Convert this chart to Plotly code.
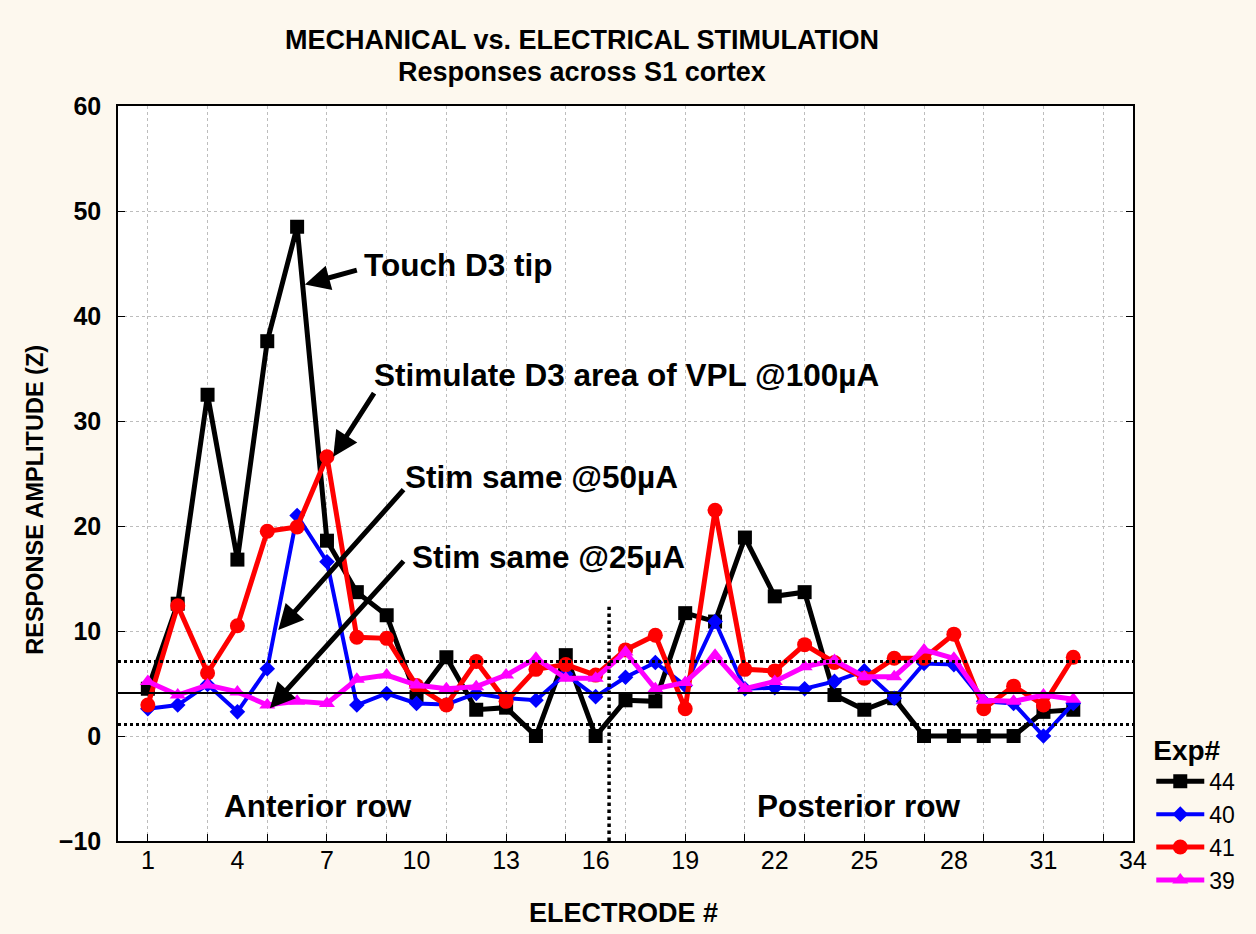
import plotly.graph_objects as go

# Electrode positions along the S1 array
electrode = list(range(1, 33))

# Response amplitudes (Z) per experiment
exp44 = [4.5, 12.6, 32.5, 16.8, 37.6, 48.5, 18.6, 13.7, 11.5, 3.7, 7.5, 2.5, 2.7, 0, 7.7, 0,
         3.4, 3.3, 11.7, 10.9, 18.9, 13.3, 13.7, 3.9, 2.5, 3.6, 0, 0, 0, 0, 2.3, 2.5]
exp40 = [2.6, 2.95, 4.9, 2.3, 6.4, 21.0, 16.6, 2.95, 4.05, 3.1, 3.0, 4.05, 3.6, 3.4, 5.9, 3.75,
         5.6, 7.0, 4.8, 10.9, 4.5, 4.6, 4.5, 5.2, 6.2, 3.6, 6.9, 6.8, 3.3, 3.1, 0, 3.1]
exp41 = [2.95, 12.4, 6.0, 10.5, 19.5, 19.9, 26.6, 9.4, 9.3, 4.8, 2.95, 7.1, 3.3, 6.35, 6.8, 5.8,
         8.2, 9.6, 2.6, 21.5, 6.35, 6.2, 8.7, 7.0, 5.5, 7.4, 7.4, 9.7, 2.6, 4.75, 2.95, 7.5]
exp39 = [5.2, 3.9, 4.85, 4.2, 2.95, 3.3, 3.1, 5.4, 5.8, 4.85, 4.5, 4.7, 5.8, 7.4, 5.5, 5.5,
         8.0, 4.5, 5.1, 7.7, 4.5, 5.2, 6.6, 7.2, 5.65, 5.65, 8.2, 7.4, 3.4, 3.3, 3.9, 3.5]

series_names = ["44", "40", "41", "39"]

# Baseline mean and band limits
baseline = 4.1
band_hi = 7.1
band_lo = 1.1
row_split = 16.45

x_ticks = list(range(1, 35, 3))
x_grid = list(range(1, 34, 2))

FONT = "Liberation Sans, Arial, sans-serif"
BG = "#fdf8ee"

fig = go.Figure()

styles = [
    dict(color="#000000", symbol="square", size=14, width=5),
    dict(color="#0000ff", symbol="diamond", size=12, width=4),
    dict(color="#ff0000", symbol="circle", size=15, width=5),
    dict(color="#ff00ff", symbol="triangle-up", size=14, width=5),
]
for name, ys, st in zip(series_names, [exp44, exp40, exp41, exp39], styles):
    fig.add_trace(go.Scatter(
        x=electrode, y=ys, name=name, mode="lines+markers",
        line=dict(color=st["color"], width=st["width"]),
        marker=dict(symbol=st["symbol"], size=st["size"], color=st["color"]),
    ))

# Reference lines
fig.add_shape(type="line", xref="x", yref="y", x0=0, x1=34, y0=baseline, y1=baseline,
              line=dict(color="black", width=2))
for yv in (band_hi, band_lo):
    fig.add_shape(type="line", xref="x", yref="y", x0=0, x1=34, y0=yv, y1=yv,
                  line=dict(color="black", width=3, dash="dot"))
fig.add_shape(type="line", xref="x", yref="y", x0=row_split, x1=row_split, y0=-10, y1=12.3,
              line=dict(color="black", width=3.5, dash="dot"))

# Arrows (head, tail) in data coordinates
arrows = [
    ((6.26, 43.0), (8.05, 44.4)),
    ((7.21, 26.6), (8.61, 32.8)),
    ((5.37, 10.1), (9.61, 23.6)),
    ((5.09, 2.64), (9.61, 16.8)),
]
for (hx, hy), (tx, ty) in arrows:
    fig.add_annotation(x=hx, y=hy, ax=tx, ay=ty, xref="x", yref="y", axref="x", ayref="y",
                       text="", showarrow=True, arrowhead=2, arrowsize=1.0, arrowwidth=5,
                       arrowcolor="black")

labels = [
    ("Touch D3 tip", 8.17, 44.9),
    ("Stimulate D3 area of VPL @100µA", 8.51, 34.4),
    ("Stim same @50µA", 9.55, 24.7),
    ("Stim same @25µA", 9.78, 17.05),
    ("Anterior row", 3.48, -6.67),
    ("Posterior row", 21.34, -6.67),
]
for txt, x, y in labels:
    fig.add_annotation(x=x, y=y, xref="x", yref="y", text=f"<b>{txt}</b>", showarrow=False,
                       xanchor="left", yanchor="middle",
                       font=dict(family=FONT, size=31.5, color="black"))

# Titles
fig.add_annotation(x=0.457, y=1.09, xref="paper", yref="paper", showarrow=False,
                   text="<b>MECHANICAL vs. ELECTRICAL STIMULATION</b>",
                   font=dict(family=FONT, size=27, color="black"),
                   xanchor="center", yanchor="middle")
fig.add_annotation(x=0.457, y=1.046, xref="paper", yref="paper", showarrow=False,
                   text="<b>Responses across S1 cortex</b>",
                   font=dict(family=FONT, size=27, color="black"),
                   xanchor="center", yanchor="middle")
fig.add_annotation(x=-0.082, y=0.464, xref="paper", yref="paper", showarrow=False,
                   text="<b>RESPONSE AMPLITUDE (Z)</b>", textangle=-90,
                   font=dict(family=FONT, size=23.5, color="black"),
                   xanchor="center", yanchor="middle")
fig.add_annotation(x=0.4985, y=-0.098, xref="paper", yref="paper", showarrow=False,
                   text="<b>ELECTRODE #</b>",
                   font=dict(family=FONT, size=27, color="black"),
                   xanchor="center", yanchor="middle")

fig.update_layout(
    width=1256, height=934,
    margin=dict(l=118, r=123, t=106, b=93),
    paper_bgcolor=BG, plot_bgcolor="white",
    showlegend=True,
    legend=dict(x=1.018, y=0.16, xanchor="left", yanchor="top",
                bgcolor="rgba(0,0,0,0)", itemwidth=48,
                title=dict(text="<b>Exp#</b>", font=dict(family=FONT, size=28, color="black")),
                font=dict(family=FONT, size=23, color="black"),
                tracegroupgap=0),
    xaxis=dict(
        range=[0, 34], tickmode="array", tickvals=x_ticks, ticktext=[str(v) for v in x_ticks],
        showgrid=False, zeroline=False, ticks="",
        showline=True, linecolor="black", linewidth=1.5, mirror=True,
        tickfont=dict(family=FONT, size=25, color="black"),
        ticklabelstandoff=-4,
        minor=dict(tickmode="array", tickvals=x_grid, showgrid=True, gridcolor="#bdbdbd",
                   griddash="dot", gridwidth=1, ticks="inside", ticklen=7, tickcolor="black"),
    ),
    yaxis=dict(
        range=[-10, 60], tickmode="linear", tick0=0, dtick=10,
        showgrid=True, gridcolor="#bdbdbd", griddash="dot", gridwidth=1, zeroline=False,
        ticks="inside", ticklen=7, tickcolor="black",
        showline=True, linecolor="black", linewidth=1.5, mirror="ticks",
        tickfont=dict(family=FONT, size=25, color="black"),
        ticklabelstandoff=10,
    ),
)
fig.update_xaxes(tickprefix="<b>", ticksuffix="</b>")
fig.update_yaxes(tickprefix="<b>", ticksuffix="</b>")

fig.write_html("out.html")
